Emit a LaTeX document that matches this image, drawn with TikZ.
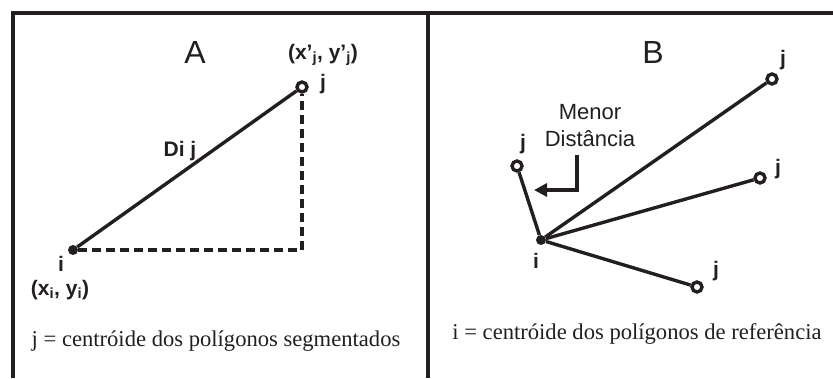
\documentclass[tikz,border=0pt]{standalone}
\usepackage{fontspec}
\setmainfont{Liberation Serif}
\setsansfont{Liberation Sans}
\usetikzlibrary{arrows.meta}
\definecolor{ink}{RGB}{35,31,32}
\begin{document}
\begin{tikzpicture}[x=1pt,y=-1pt,
  frameline/.style={line width=3.2pt, draw=ink},
  link/.style={line width=3.4pt, draw=ink},
  dashlink/.style={line width=3.2pt, draw=ink, dash pattern=on 9pt off 5pt},
  ptfill/.style={circle, fill=ink, inner sep=0pt, minimum size=10pt},
  ptring/.style={circle, draw=ink, line width=3.4pt, fill=white, inner sep=0pt, minimum size=10pt},
  lbl/.style={font=\sffamily\bfseries\fontsize{21}{23}\selectfont, inner sep=0pt, text=ink},
  big/.style={font=\sffamily\fontsize{32}{34}\selectfont, inner sep=0pt, text=ink},
  note/.style={font=\sffamily\fontsize{22}{27}\selectfont, inner sep=0pt, text=ink, align=center},
  caption/.style={font=\rmfamily\fontsize{22.6}{26}\selectfont, inner sep=0pt, text=ink}
]
\useasboundingbox (0,0) rectangle (833,378);
% frame
\draw[frameline] (13,378) -- (13,13) -- (833,13);
\draw[frameline] (428,13) -- (428,378);

% ---------- Panel A ----------
\node[big] (tA) at (195,52) {A};
\node[ptfill] (iA) at (73,250) {};
\node[ptring] (jA) at (302,87) {};
\coordinate (cA) at (302,250);
\draw[link] (iA) -- (jA);
\draw[dashlink] (iA) -- (cA) -- (jA);
\node[lbl] (lDij) at (180,151) {Di j};
\node[lbl] (ljA) at (323,84) {j};
\node[lbl] (lxj) at (323,55) {(x’\textsubscript{j}, y’\textsubscript{j})};
\node[lbl] (liA) at (61,264) {i};
\node[lbl] (lxi) at (60,290) {(x\textsubscript{i}, y\textsubscript{i})};
\node[caption] (capA) at (216,341) {j = centróide dos polígonos segmentados};

% ---------- Panel B ----------
\node[big] (tB) at (653,52) {B};
\node[ptfill] (iB) at (541,240) {};
\node[ptring] (j1) at (517,166) {};
\node[ptring] (j2) at (772,79) {};
\node[ptring] (j3) at (760,178) {};
\node[ptring] (j4) at (697,287) {};
\draw[link] (iB) -- (j1);
\draw[link] (iB) -- (j2);
\draw[link] (iB) -- (j3);
\draw[link] (iB) -- (j4);
\node[lbl] (lj1) at (523,144) {j};
\node[lbl] (lj2) at (783,60) {j};
\node[lbl] (lj3) at (778,169) {j};
\node[lbl] (lj4) at (716,271) {j};
\node[lbl] (liB) at (536,261) {i};
\node[note] (menor) at (590,126) {Menor\\Distância};
\coordinate (aTop) at (577,155);
\coordinate (aCorner) at (577,190);
\coordinate (aEnd) at (534,190);
\draw[link, -{Triangle[length=13pt,width=13pt]}] (aTop) -- (aCorner) -- (aEnd);
\node[caption] (capB) at (637,334) {i = centróide dos polígonos de referência};
\end{tikzpicture}
\end{document}
